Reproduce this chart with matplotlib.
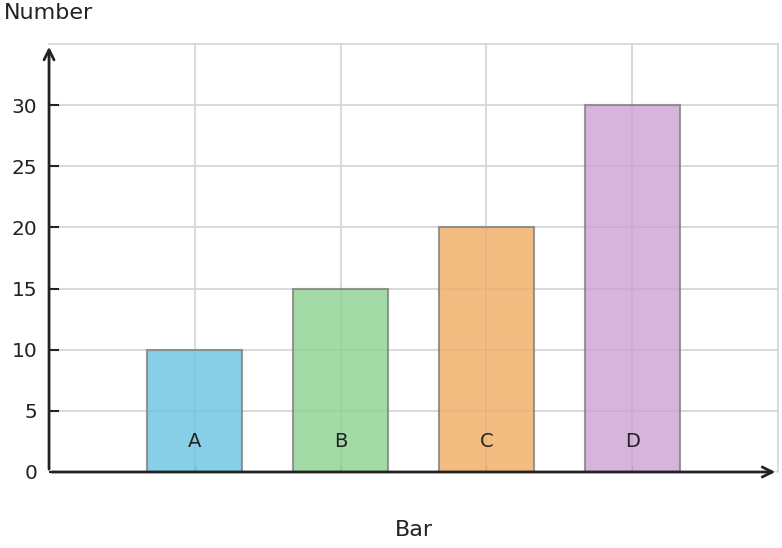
import matplotlib.pyplot as plt

# data
labels = ['A', 'B', 'C', 'D']
positions = [1, 2, 3, 4]
values = [10, 15, 20, 30]
colors = ['#69c4e2', '#8bd38f', '#f0ad63', '#cea1d2']

fig = plt.figure(figsize=(7.82, 5.48), dpi=100)
ax = fig.add_axes([0.0627, 0.1387, 0.9323, 0.781])

ax.set_axisbelow(True)
ax.grid(True, color='#d3d3d3', linewidth=1.2)

ax.bar(positions, values, width=0.65, color=colors, alpha=0.8,
       edgecolor='#808080', linewidth=1.5, zorder=2)

for p, lab in zip(positions, labels):
    ax.text(p, 2.5, lab, ha='center', va='center', fontsize=14, color='#222222', zorder=3)

ax.set_xlim(0, 5)
ax.set_ylim(0, 35)
ax.set_xticks(positions)
ax.set_xticklabels([])
ax.set_yticks([0, 5, 10, 15, 20, 25, 30])
ax.tick_params(axis='y', direction='in', length=7, width=1.5, color='#222222',
               labelsize=14.5, labelcolor='#222222', pad=8.5)
ax.tick_params(axis='x', direction='in', length=5, width=1, color='#999999')

for s in ['top', 'right']:
    ax.spines[s].set_color('#d3d3d3')
    ax.spines[s].set_linewidth(1.2)
for s in ['left', 'bottom']:
    ax.spines[s].set_visible(False)

# axis arrows
ax.annotate('', xy=(0, 1.0), xytext=(0, 0), xycoords='axes fraction',
            arrowprops=dict(arrowstyle='->', color='#222222', lw=2, mutation_scale=18),
            annotation_clip=False, zorder=5)
ax.annotate('', xy=(1.0, 0), xytext=(0, 0), xycoords='axes fraction',
            arrowprops=dict(arrowstyle='->', color='#222222', lw=2, mutation_scale=18),
            annotation_clip=False, zorder=5)

ax.set_xlabel('Bar', fontsize=16, color='#222222', labelpad=31)
fig.text(0.005, 0.977, 'Number', fontsize=16, color='#222222', ha='left', va='center')

fig.savefig('out.png', dpi=100)
